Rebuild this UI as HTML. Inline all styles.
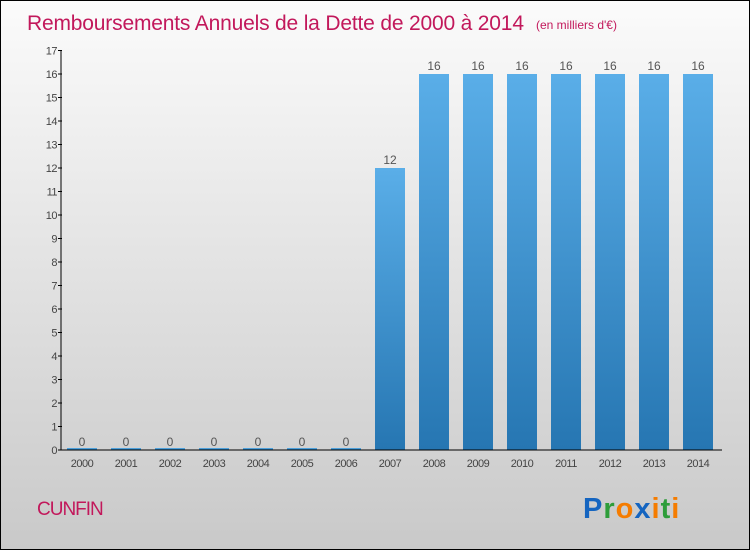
<!DOCTYPE html>
<html><head><meta charset="utf-8"><style>
body{margin:0}
#c{width:748px;height:548px;border:1px solid #000;background:linear-gradient(#fbfbfb,#c9c9c9);position:relative;font-family:"Liberation Sans",sans-serif}
</style></head><body>
<div id="c">
<svg width="748" height="548" id="s">
<defs><linearGradient id="g" x1="0" y1="0" x2="0" y2="1"><stop offset="0" stop-color="#5aaee8"/><stop offset="1" stop-color="#2676b2"/></linearGradient></defs>
<text x="26" y="29" font-size="21" fill="#c2185b" textLength="497">Remboursements Annuels de la Dette de 2000 à 2014</text>
<text x="535" y="28" font-size="12" fill="#c2185b">(en milliers d'€)</text>
<text x="36" y="514" font-size="19" fill="#c2185b" letter-spacing="-1">CUNFIN</text>
<text x="582" y="517" font-size="29" font-weight="bold" letter-spacing="1"><tspan fill="#1565c0">P</tspan><tspan fill="#2e9d3a">r</tspan><tspan fill="#f57c00">o</tspan><tspan fill="#1565c0">x</tspan><tspan fill="#f57c00">i</tspan><tspan fill="#2e9d3a">t</tspan><tspan fill="#f57c00">i</tspan></text>
<g id="p"></g>
</svg></div>
<script>
const years=["2000","2001","2002","2003","2004","2005","2006","2007","2008","2009","2010","2011","2012","2013","2014"];
const values=[0,0,0,0,0,0,0,12,16,16,16,16,16,16,16];
const yTicks=[0,1,2,3,4,5,6,7,8,9,10,11,12,13,14,15,16,17];
const ns="http://www.w3.org/2000/svg",p=document.getElementById('p');
const y=v=>449-v*23.5, x=i=>81+i*44;
function mk(t,a,txt){const e=document.createElementNS(ns,t);for(const k in a)e.setAttribute(k,a[k]);if(txt!=null)e.textContent=txt;p.appendChild(e);return e;}
values.forEach((v,i)=>{
 const r=mk('rect',{x:x(i)-15,y:Math.min(y(v),y(0)-2),width:30,height:Math.max(y(0)-y(v),2),fill:'url(#g)'});
 
 
 const t=mk('text',{x:x(i),y:y(v)-4,'font-size':12,fill:'#555','text-anchor':'middle'},String(v));
 
 
 const l=mk('text',{x:x(i),y:466,'font-size':11,fill:'#444','text-anchor':'middle','letter-spacing':'-0.5'},years[i]);
 
 
});
yTicks.forEach(v=>{
 const t=mk('text',{x:56,y:y(v)+4,'font-size':11,fill:'#444','text-anchor':'end','letter-spacing':'-0.5'},String(v));
 
 
 const l=mk('line',{x1:57,x2:61,y1:y(v),y2:y(v),stroke:'#000'});
 
 
});
const ya=mk('line',{x1:60,x2:60,y1:y(17),y2:y(0),stroke:'#000'});


const xa=mk('line',{x1:60,x2:721,y1:y(0),y2:y(0),stroke:'#000'});


</script>
</body></html>
